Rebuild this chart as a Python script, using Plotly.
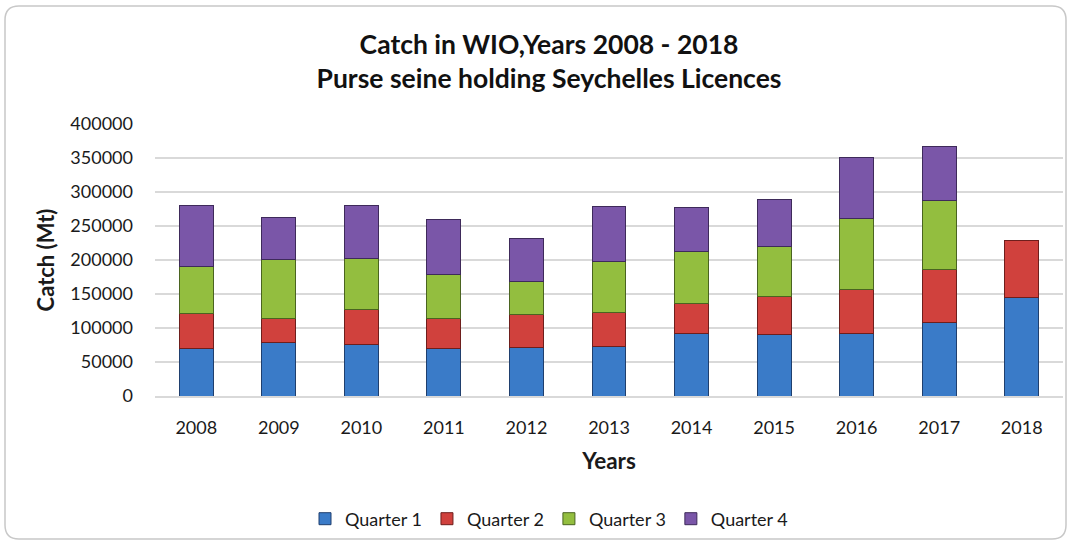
import plotly.graph_objects as go

years = ["2008", "2009", "2010", "2011", "2012", "2013", "2014", "2015", "2016", "2017", "2018"]
quarter1 = [70000, 79000, 75500, 70000, 71000, 72500, 92000, 90500, 92000, 108000, 145000]
quarter2 = [52000, 35000, 51500, 43500, 49000, 50500, 44500, 56000, 64000, 78000, 84000]
quarter3 = [68500, 87000, 75000, 64500, 48000, 75000, 76000, 73500, 104500, 101000, None]
quarter4 = [89000, 61000, 77500, 81000, 63000, 80000, 65000, 69500, 90500, 80500, None]

series_names = ["Quarter 1", "Quarter 2", "Quarter 3", "Quarter 4"]
fill_colors = ["#3A7BC8", "#D0413D", "#93BE3F", "#7A56A8"]
edge_colors = ["#1F3F6E", "#6E1E1C", "#4A6420", "#3E2A5A"]

W, H = 1073, 545
ML, MR, MT, MB = 155, 10, 124, 149

fig = go.Figure()
for name, vals, fc, ec in zip(series_names, [quarter1, quarter2, quarter3, quarter4], fill_colors, edge_colors):
    fig.add_trace(go.Bar(
        x=years, y=vals, name=name,
        marker=dict(color=fc, line=dict(color=ec, width=1)),
    ))

pw = W - ML - MR
ph = H - MT - MB

def px_x(x):
    return (x - ML) / pw

def px_y(y):
    return (H - MB - y) / ph

# rounded chart frame
x0, y0, x1, y1, r = 5, 6, 1066, 539, 14
path = (
    f"M {px_x(x0 + r)},{px_y(y0)} L {px_x(x1 - r)},{px_y(y0)} "
    f"Q {px_x(x1)},{px_y(y0)} {px_x(x1)},{px_y(y0 + r)} "
    f"L {px_x(x1)},{px_y(y1 - r)} Q {px_x(x1)},{px_y(y1)} {px_x(x1 - r)},{px_y(y1)} "
    f"L {px_x(x0 + r)},{px_y(y1)} Q {px_x(x0)},{px_y(y1)} {px_x(x0)},{px_y(y1 - r)} "
    f"L {px_x(x0)},{px_y(y0 + r)} Q {px_x(x0)},{px_y(y0)} {px_x(x0 + r)},{px_y(y0)} Z"
)

fig.update_layout(
    width=W, height=H,
    barmode="stack",
    bargap=0.59,
    plot_bgcolor="white",
    paper_bgcolor="white",
    margin=dict(l=ML, r=MR, t=MT, b=MB, autoexpand=False),
    font=dict(family="Lato, Open Sans, sans-serif", size=18, color="#1a1a1a"),
    title=dict(
        text="<b>Catch in WIO,Years 2008 - 2018<br>Purse seine holding Seychelles Licences</b>",
        x=px_x(549), xref="paper", xanchor="center",
        y=1 - 54 / H, yref="container", yanchor="middle",
        font=dict(family="Lato, Open Sans, sans-serif", size=26.5, color="#111111"),
    ),
    xaxis=dict(
        showgrid=False,
        showline=True, linecolor="#D9D9D9", linewidth=1.5,
        ticks="", ticklabelstandoff=15,
        tickfont=dict(size=18),
        automargin=False,
        title=dict(text="<b>Years</b>", font=dict(size=22.5), standoff=16),
    ),
    yaxis=dict(
        range=[0, 400000],
        dtick=50000,
        showgrid=True, gridcolor="#D9D9D9", gridwidth=1.5,
        zeroline=False,
        tickformat="d",
        ticks="", ticklabelstandoff=21,
        tickfont=dict(size=18),
        automargin=False,
        title=dict(text="<b>Catch (Mt)</b>", font=dict(size=22), standoff=9),
    ),
    legend=dict(
        orientation="h",
        x=px_x(549), xanchor="center",
        y=px_y(519), yanchor="middle",
        font=dict(size=18),
        traceorder="normal",
        itemwidth=30,
    ),
    shapes=[dict(
        type="path", path=path, xref="paper", yref="paper",
        line=dict(color="#C8C8C8", width=1.5), fillcolor="rgba(0,0,0,0)",
        layer="below",
    )],
)

fig.write_html(
    "out.html",
    config={"displayModeBar": False},
    post_script="document.body.style.margin='0';document.body.style.overflow='hidden';",
)
